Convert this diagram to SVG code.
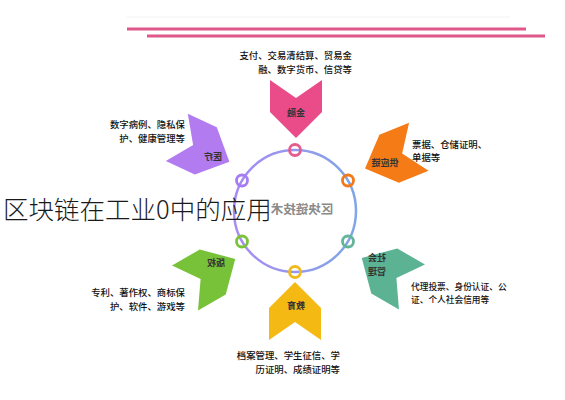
<svg xmlns="http://www.w3.org/2000/svg" width="565" height="400" viewBox="0 0 565 400">
<defs>
<style>
.body{font-family:"Noto Sans CJK SC","Noto Sans",sans-serif;font-size:9.4px;font-weight:500;fill:#111;}
.lab{font-family:"Noto Sans CJK SC","Noto Sans",sans-serif;font-size:9px;font-weight:bold;fill:#333;text-anchor:middle;}
.ring{fill:none;stroke-width:2.8;}
</style>
<linearGradient id="cg" x1="0" y1="0" x2="1" y2="0">
<stop offset="0" stop-color="#A98BF3"/><stop offset="1" stop-color="#7FA6E6"/>
</linearGradient>
<path id="chev" d="M-26,-30 L0,-12 L26,-30 L26,2 L0,28 L-26,2 Z"/>
</defs>
<rect width="565" height="400" fill="#fff"/>
<line x1="127" y1="17" x2="510" y2="17" stroke="#f2f2f2" stroke-width="1"/>
<line x1="127" y1="29" x2="526" y2="29" stroke="#E0588A" stroke-width="3"/>
<line x1="147" y1="36" x2="545" y2="36" stroke="#E0588A" stroke-width="3"/>

<g id="connectors">
<circle cx="295" cy="211" r="61" fill="none" stroke="url(#cg)" stroke-width="2.5"/>
</g>

<g id="center">
<text transform="translate(302,214) scale(-1,1)" text-anchor="middle" style="font-family:'Noto Sans CJK SC',sans-serif;font-size:12.5px;font-weight:bold;fill:#8a8a8a">区块链技术</text>
</g>

<g id="n-finance">
<use href="#chev" transform="translate(296,110)" fill="#E94C88"/>
<circle class="ring" cx="295" cy="150" r="5.5" stroke="#E55C8E"/>
<text class="lab" transform="translate(296,116) scale(-1,1)">金融</text>
<text class="body" x="352" y="59" text-anchor="end">支付、交易清结算、贸易金</text>
<text class="body" x="352" y="73" text-anchor="end">融、数字货币、信贷等</text>
</g>

<g id="n-supply">
<use href="#chev" transform="translate(391,158) rotate(68)" fill="#F47B16"/>
<circle class="ring" cx="348" cy="180.5" r="5.5" stroke="#F07A1A"/>
<text class="lab" transform="translate(385,166) scale(-1,1)">供应链</text>
<text class="body" x="412" y="148">票据、仓储证明、</text>
<text class="body" x="412" y="161">单据等</text>
</g>

<g id="n-social">
<use href="#chev" transform="translate(386,272) rotate(120)" fill="#5CB394"/>
<circle class="ring" cx="348" cy="241.5" r="5.5" stroke="#63B59A"/>
<text class="lab" transform="translate(377,261) scale(-1,1)">社会</text>
<text class="lab" transform="translate(377,275) scale(-1,1)">管理</text>
<text class="body" x="411" y="290" style="font-size:8.7px">代理投票、身份认证、公</text>
<text class="body" x="411" y="303" style="font-size:8.7px">证、个人社会信用等</text>
</g>

<g id="n-edu">
<use href="#chev" transform="translate(295,310) rotate(180)" fill="#F5B913"/>
<circle class="ring" cx="295" cy="272" r="5.5" stroke="#F2B91B"/>
<text class="lab" transform="translate(296,309) scale(-1,1)">教育</text>
<text class="body" x="340" y="359" text-anchor="end">档案管理、学生征信、学</text>
<text class="body" x="340" y="373" text-anchor="end">历证明、成绩证明等</text>
</g>

<g id="n-copyright">
<use href="#chev" transform="translate(211,273) rotate(240)" fill="#78C23A"/>
<circle class="ring" cx="242" cy="241.5" r="5.5" stroke="#7BC43A"/>
<text class="lab" transform="translate(216,266) scale(-1,1)">版权</text>
<text class="body" x="185" y="296" text-anchor="end">专利、著作权、商标保</text>
<text class="body" x="185" y="310" text-anchor="end">护、软件、游戏等</text>
</g>

<g id="n-medical">
<use href="#chev" transform="translate(204,150) rotate(-65)" fill="#B27BF0"/>
<circle class="ring" cx="242" cy="180.5" r="5.5" stroke="#A77BF2"/>
<text class="lab" transform="translate(213,160) scale(-1,1)">医疗</text>
<text class="body" x="185" y="128" text-anchor="end">数字病例、隐私保</text>
<text class="body" x="185" y="142" text-anchor="end">护、健康管理等</text>
</g>

<g id="title">
<text x="3" y="219" style="font-family:'Noto Sans CJK SC',sans-serif;font-size:25.5px;font-weight:300;fill:#1a1a1a">区块链在工业0中的应用</text>
</g>
</svg>
